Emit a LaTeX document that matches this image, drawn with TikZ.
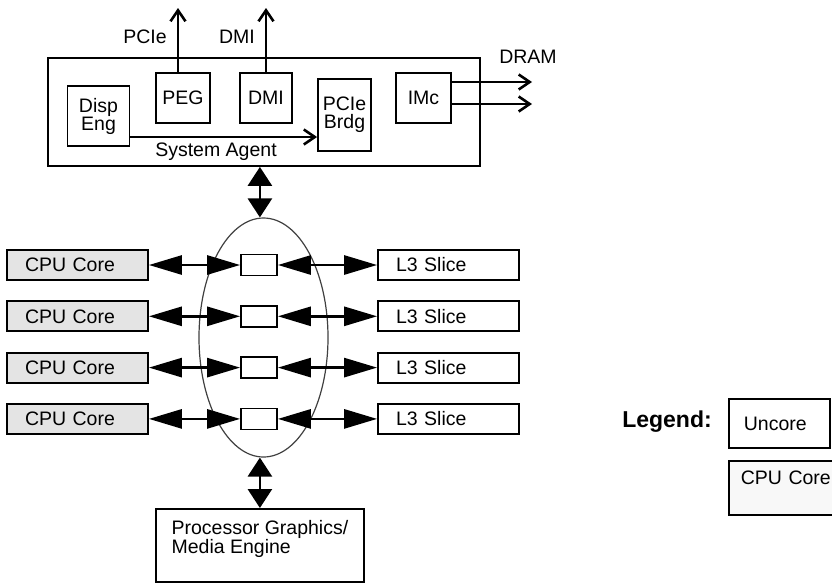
\documentclass[tikz,border=0pt]{standalone}
\usepackage{fontspec}
\setmainfont{Liberation Sans}
\usepackage{xcolor}
\usepackage{tikz}
\usetikzlibrary{shapes.geometric, arrows.meta, positioning}
\definecolor{grisnucleo}{HTML}{E4E4E4}
\definecolor{grisleyenda}{HTML}{F8F8F8}

\begin{document}
\begin{tikzpicture}[
    x=1pt, y=-1pt,
    font=\fontsize{19.5pt}{18pt}\selectfont,
    node distance=19.5pt and 0pt,
    bloque/.style={rectangle, draw, line width=1.8pt, inner sep=0pt, align=center},
    fila/.style={bloque, minimum width=141pt, minimum height=30pt, text width=105pt, inner xsep=18pt, align=left},
    enlace/.style={bloque, minimum width=36pt, minimum height=21pt},
    flechaH/.style={{Triangle[length=33pt,width=19pt]}-{Triangle[length=33pt,width=19pt]}, line width=2.8pt},
    flechaV/.style={{Triangle[length=19pt,width=24pt]}-{Triangle[length=19pt,width=24pt]}, line width=2.8pt},
    flechaF/.style={-{Straight Barb[length=11pt,width=15pt]}, line width=2.6pt}
]
\clip (0,0) rectangle (832,582);

% anillo
\node (anillo) [ellipse, draw=black!75, line width=1.2pt, minimum width=129pt, minimum height=239pt, inner sep=0pt] at (263.5,337.5) {};

% agente del sistema
\node (sa) [bloque, minimum width=432pt, minimum height=108pt] at (264,112) {};
\node (salbl) at (216,152) {System Agent};
\node (disp) [bloque, minimum width=62pt, minimum height=60pt] at (98.5,116) {Disp\\Eng};
\node (peg) [bloque, minimum width=54pt, minimum height=50pt] at (183,98) {PEG};
\node (dmi) [bloque, minimum width=52pt, minimum height=50pt] at (266,98) {DMI};
\node (brdg) [bloque, minimum width=53pt, minimum height=72pt] at (344.5,115) {PCIe\\Brdg};
\node (imc) [bloque, minimum width=55pt, minimum height=50pt] at (423.5,98) {IMc};

\node (lblpcie) at (145,37) {PCIe};
\node (lbldmi) at (237,37) {DMI};
\node (lbldram) at (528,57) {DRAM};

\coordinate (pcietip) at (178,8);
\coordinate (dmitip) at (266,8);
\coordinate (dram1) at (532,82);
\coordinate (dram2) at (532,104);

% nucleos y rebanadas
\node (cpu1) [fila, fill=grisnucleo] at (77.5,265) {CPU Core};
\node (cpu2) [fila, fill=grisnucleo, below=of cpu1] {CPU Core};
\node (cpu3) [fila, fill=grisnucleo, below=of cpu2] {CPU Core};
\node (cpu4) [fila, fill=grisnucleo, below=of cpu3] {CPU Core};

\node (sw1) [enlace] at (259,265) {};
\node (sw2) [enlace, below=28.5pt of sw1] {};
\node (sw3) [enlace, below=28.5pt of sw2] {};
\node (sw4) [enlace, below=28.5pt of sw3] {};

\node (l3a) [fila] at (448.5,265) {L3 Slice};
\node (l3b) [fila, below=of l3a] {L3 Slice};
\node (l3c) [fila, below=of l3b] {L3 Slice};
\node (l3d) [fila, below=of l3c] {L3 Slice};

% graficos
\node (gfx) [bloque, anchor=north west, minimum width=208pt, inner xsep=15.5pt, inner ysep=11pt, text depth=17.8pt, align=left] at (155,508) {Processor Graphics/\\Media Engine};

% leyenda
\node (leyenda) at (667,422) {\fontsize{23pt}{24pt}\selectfont\bfseries Legend:};
\node (leyuncore) [bloque, anchor=north west, minimum height=49pt, text width=71pt, inner xsep=15pt, align=left] at (728,398) {Uncore};
\node (leycore) [bloque, fill=grisleyenda, anchor=north west, text width=94pt, inner xsep=12pt, inner ysep=10pt, text depth=20.7pt, align=left] at (728,460) {CPU Core};

% flechas
\draw [flechaF] (peg.north -| pcietip) -- (pcietip);
\draw [flechaF] (dmi.north -| dmitip) -- (dmitip);
\draw [flechaF] (imc.east |- dram1) -- (dram1);
\draw [flechaF] (imc.east |- dram2) -- (dram2);
\draw [flechaF] ([yshift=-21pt]disp.east) -- ([yshift=-21pt]disp.east -| brdg.west);

\draw [flechaV] (sa.south -| gfx.north) -- (anillo.north -| gfx.north);
\draw [flechaV] (anillo.south -| gfx.north) -- (gfx.north);

\draw [flechaH] (cpu1) -- (sw1);
\draw [flechaH] (cpu2) -- (sw2);
\draw [flechaH] (cpu3) -- (sw3);
\draw [flechaH] (cpu4) -- (sw4);
\draw [flechaH] (sw1) -- (l3a);
\draw [flechaH] (sw2) -- (l3b);
\draw [flechaH] (sw3) -- (l3c);
\draw [flechaH] (sw4) -- (l3d);

\end{tikzpicture}
\end{document}
